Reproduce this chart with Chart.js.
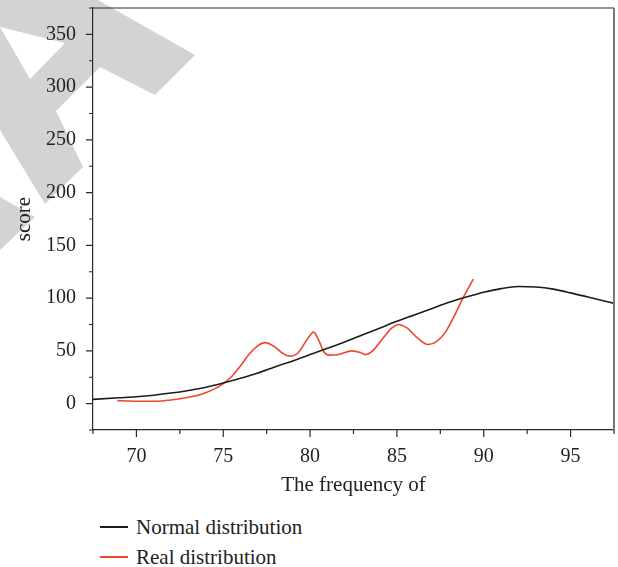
<!DOCTYPE html>
<html>
<head>
<meta charset="utf-8">
<script src="https://cdn.jsdelivr.net/npm/chart.js@4/dist/chart.umd.min.js"></script>
<style>
  html, body { margin: 0; padding: 0; background: #fff; }
  #wrap { position: relative; width: 618px; height: 567px; overflow: hidden; }
  #box { position: absolute; left: 0; top: 0; width: 618px; height: 505px; }
  #legend { position: absolute; left: 100px; top: 512px; font-family: "Liberation Serif", serif; font-size: 21px; color: #222; }
  .item { display: flex; align-items: center; height: 30px; }
  .swatch { width: 28px; height: 1.6px; margin-right: 8px; }
</style>
</head>
<body>
<div id="wrap">
  <div id="box"><canvas id="c"></canvas></div>
  <div id="legend"></div>
</div>
<script>
// Fitted normal curve
const normalX = [67.5, 69, 70, 71, 72, 73, 74, 75, 76, 77, 78, 79, 80, 81, 82, 83, 84, 85, 86, 87, 88, 89, 90, 91, 92, 93, 94, 95, 96, 97, 97.5];
const normalY = [4, 5.5, 6.5, 8, 10, 12.5, 15.5, 19.5, 24, 29, 35, 40.5, 46.5, 52.5, 58.5, 65, 71.5, 78, 84, 90, 96, 101, 105.5, 109, 111, 110.5, 108.5, 105, 101, 97, 95];

// Observed distribution
const realX = [68.9, 69.5, 70.3, 71, 72, 73, 73.7, 74.5, 75, 75.5, 76, 76.5, 77, 77.4, 77.9, 78.4, 78.8, 79.3, 79.8, 80.2, 80.5, 80.8, 81.1, 81.6, 82.4, 82.9, 83.2, 83.6, 84.2, 84.7, 85.1, 85.6, 86.2, 86.8, 87.3, 87.8, 88.3, 88.8, 89.4];
const realY = [2.8, 2.5, 2.3, 2.3, 3.5, 6, 8.7, 14, 19, 26, 36, 47, 55, 57.8, 54.5, 48, 45, 48, 60, 67.8, 60, 49, 46, 46.3, 50, 48.5, 46.5, 50, 62, 71.5, 75, 71.5, 62, 56, 59, 68, 83, 100, 118];

const seriesNames = ['Normal distribution', 'Real distribution'];
const seriesColors = ['#1c1c1c', '#f0462d'];
const xTitle = 'The frequency of';
const yTitle = 'score';

const toPoints = (xs, ys) => xs.map((x, i) => ({ x: x, y: ys[i] }));

// Light grey stamp shapes in the upper-left corner
const stampPlugin = {
  id: 'stamp',
  beforeDraw(chart) {
    const ctx = chart.ctx;
    ctx.save();
    ctx.fillStyle = '#d3d3d3';
    const shapes = [
      [[0, 0], [98, 0], [195, 55], [155, 95], [100, 67], [56, 111], [83, 167], [45, 204], [0, 130]],
      [[0, 197], [35, 217], [0, 250]]
    ];
    shapes.forEach(pts => {
      ctx.beginPath();
      pts.forEach((p, i) => i ? ctx.lineTo(p[0], p[1]) : ctx.moveTo(p[0], p[1]));
      ctx.closePath();
      ctx.fill();
    });
    ctx.fillStyle = '#ffffff';
    ctx.beginPath();
    ctx.moveTo(0, 27);
    ctx.lineTo(65, 43);
    ctx.lineTo(30, 79);
    ctx.closePath();
    ctx.fill();
    ctx.restore();
  }
};

// Frame on top/right and outward major/minor tick marks
const framePlugin = {
  id: 'frame',
  afterDraw(chart) {
    const { ctx, chartArea: a, scales } = chart;
    ctx.save();
    ctx.strokeStyle = '#2a2a2a';
    ctx.lineWidth = 1.2;
    ctx.beginPath();
    ctx.moveTo(a.left, a.top);
    ctx.lineTo(a.right, a.top);
    ctx.stroke();
    ctx.strokeStyle = '#777';
    ctx.lineWidth = 2;
    ctx.beginPath();
    ctx.moveTo(a.right, a.top);
    ctx.lineTo(a.right, a.bottom);
    ctx.stroke();

    ctx.strokeStyle = '#2a2a2a';
    ctx.lineWidth = 1.2;
    ctx.beginPath();
    scales.x.ticks.forEach(t => {
      const px = scales.x.getPixelForValue(t.value);
      const len = (t.value % 5 === 0) ? 7 : 4;
      ctx.moveTo(px, a.bottom);
      ctx.lineTo(px, a.bottom + len);
    });
    scales.y.ticks.forEach(t => {
      const py = scales.y.getPixelForValue(t.value);
      const len = (t.value % 50 === 0) ? 7 : 4;
      ctx.moveTo(a.left, py);
      ctx.lineTo(a.left - len, py);
    });
    ctx.stroke();
    ctx.restore();
  }
};

Chart.defaults.font.family = '"Liberation Serif", serif';
Chart.defaults.font.size = 20;
Chart.defaults.color = '#222';

const chart = new Chart(document.getElementById('c'), {
  type: 'line',
  data: {
    datasets: [
      {
        label: seriesNames[0],
        data: toPoints(normalX, normalY),
        borderColor: seriesColors[0],
        borderWidth: 1.6,
        pointRadius: 0,
        cubicInterpolationMode: 'monotone',
        fill: false
      },
      {
        label: seriesNames[1],
        data: toPoints(realX, realY),
        borderColor: seriesColors[1],
        borderWidth: 1.6,
        pointRadius: 0,
        cubicInterpolationMode: 'monotone',
        fill: false
      }
    ]
  },
  options: {
    responsive: true,
    maintainAspectRatio: false,
    animation: false,
    events: [],
    layout: { padding: { top: 8, right: 4, left: 0, bottom: 0 } },
    plugins: { legend: { display: false }, tooltip: { enabled: false } },
    scales: {
      x: {
        type: 'linear',
        min: 67.5,
        max: 97.5,
        afterFit: s => { s.height = 75; s.paddingLeft = 0; s.paddingRight = 0; },
        border: { display: true, color: '#2a2a2a', width: 1.2 },
        grid: { drawOnChartArea: false, tickLength: 7, tickColor: 'rgba(0,0,0,0)' },
        ticks: {
          stepSize: 2.5,
          autoSkip: false,
          maxRotation: 0,
          padding: 8,
          callback: v => (v % 5 === 0 ? v : '')
        },
        title: { display: true, text: xTitle, font: { size: 21 }, padding: { top: 0, bottom: 7 } }
      },
      y: {
        min: -25,
        max: 375,
        afterFit: s => { s.width = 93; s.paddingTop = 0; s.paddingBottom = 0; },
        border: { display: true, color: '#2a2a2a', width: 1.2 },
        grid: { drawOnChartArea: false, tickLength: 7, tickColor: 'rgba(0,0,0,0)' },
        ticks: {
          stepSize: 25,
          autoSkip: false,
          padding: 10,
          callback: v => (v % 50 === 0 ? v : '')
        },
        title: { display: true, text: yTitle, font: { size: 21 }, padding: { top: 12, bottom: 0 } }
      }
    }
  },
  plugins: [stampPlugin, framePlugin]
});

// Legend listed below the plot, one series per row
const legend = document.getElementById('legend');
chart.data.datasets.forEach(ds => {
  const row = document.createElement('div');
  row.className = 'item';
  const sw = document.createElement('span');
  sw.className = 'swatch';
  sw.style.background = ds.borderColor;
  const txt = document.createElement('span');
  txt.textContent = ds.label;
  row.appendChild(sw);
  row.appendChild(txt);
  legend.appendChild(row);
});
</script>
</body>
</html>
